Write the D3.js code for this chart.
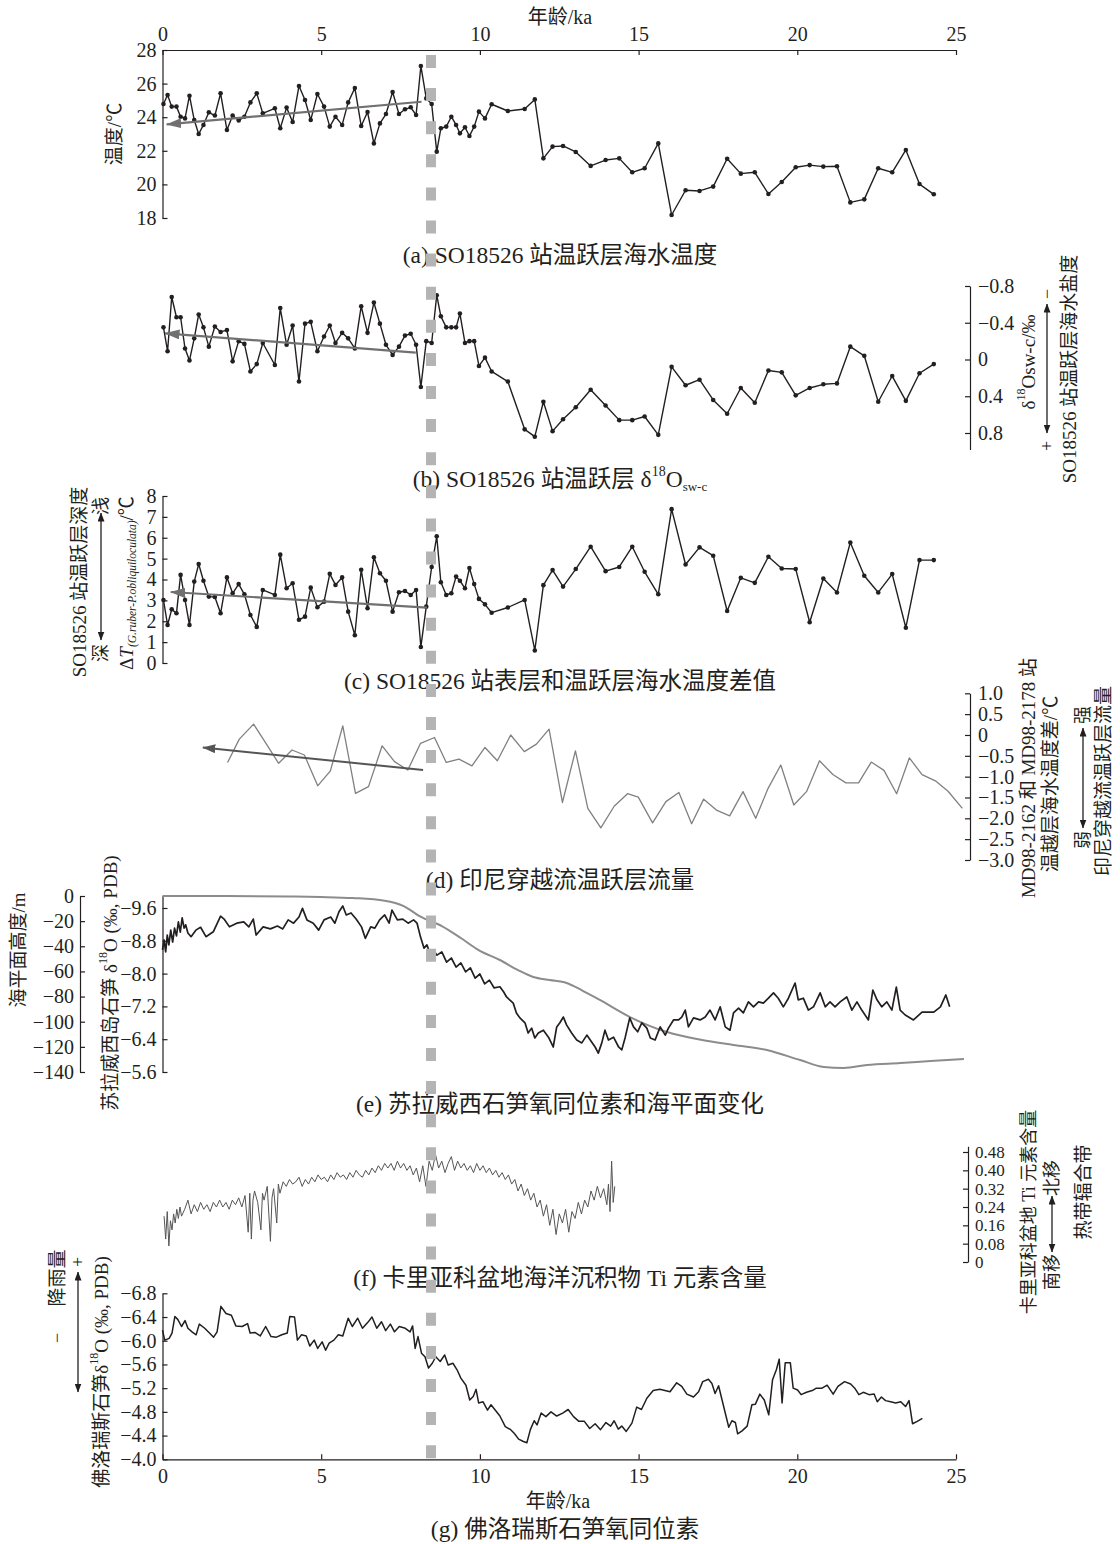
<!DOCTYPE html>
<html>
<head>
<meta charset="utf-8">
<script src="https://cdn.jsdelivr.net/npm/d3@7"></script>
<style>
  body { margin: 0; background: #fff; }
  svg text { fill: #231f20; }
</style>
</head>
<body>
<svg id="chart" width="1120" height="1544"></svg>
<script>
// ---------- data ----------
const ageTicks = [0, 5, 10, 15, 20, 25];
const tempTicks = [18, 20, 22, 24, 26, 28];
const d18OswTicks = [-0.8, -0.4, 0, 0.4, 0.8];
const deltaTTicks = [0, 1, 2, 3, 4, 5, 6, 7, 8];
const itfTicks = [1, 0.5, 0, -0.5, -1, -1.5, -2, -2.5, -3];
const sulawesiTicks = [-9.6, -8.8, -8.0, -7.2, -6.4, -5.6];
const seaLevelTicks = [0, -20, -40, -60, -80, -100, -120, -140];
const tiTicks = [0, 0.08, 0.16, 0.24, 0.32, 0.40, 0.48];
const floresTicks = [-6.8, -6.4, -6.0, -5.6, -5.2, -4.8, -4.4, -4.0];

// SO18526 sample ages (ka), shared by panels a-c
const coreAges = [0.03,0.16,0.29,0.44,0.57,0.71,0.85,1.0,1.14,1.29,1.46,1.65,1.83,2.03,2.21,2.40,2.58,2.77,2.97,3.16,
  3.54,3.71,3.91,4.10,4.30,4.49,4.67,4.88,5.09,5.27,5.45,5.66,5.85,6.06,6.26,6.46,6.66,6.85,7.04,7.25,
  7.45,7.64,7.82,7.99,8.14,8.31,8.48,8.64,8.77,8.94,9.10,9.25,9.37,9.53,9.67,9.82,9.97,10.16,10.37,10.88,
  11.41,11.73,12.0,12.29,12.62,13.02,13.49,13.96,14.39,14.80,15.19,15.62,16.04,16.48,16.92,17.35,17.79,18.22,18.66,19.09,
  19.51,19.95,20.39,20.82,21.25,21.67,22.11,22.55,22.99,23.42,23.85,24.30];
// thermocline temperature (°C)
const thermoTemp = [24.79,25.32,24.63,24.63,24.03,23.93,25.28,23.83,23.0,23.54,24.29,24.1,25.42,23.24,24.1,23.8,24.03,24.88,25.42,24.23,
  24.53,23.34,24.57,23.71,25.86,25.02,23.83,25.38,24.63,23.44,24.03,23.54,24.88,25.74,23.48,24.31,22.44,23.63,24.19,25.5,
  24.19,24.47,24.59,24.13,27.05,25.12,24.79,21.95,23.34,23.44,24.03,23.54,23.04,23.4,22.88,23.44,24.33,23.93,24.77,24.37,
  24.49,25.06,21.55,22.25,22.29,21.93,21.1,21.45,21.55,20.72,20.96,22.44,18.18,19.65,19.61,19.87,21.53,20.64,20.72,19.43,
  20.14,21.02,21.15,21.06,21.08,18.93,19.11,20.96,20.72,22.05,20.02,19.41];
// thermocline δ18O sw-c (‰)
const thermoD18Osw = [-0.35,-0.09,-0.68,-0.46,-0.46,-0.12,0.01,-0.23,-0.49,-0.35,-0.14,-0.36,-0.30,-0.32,0.02,-0.20,-0.17,0.13,0.05,-0.18,
  0.06,-0.56,-0.16,-0.37,0.24,-0.39,-0.41,-0.09,-0.25,-0.37,-0.18,-0.29,-0.23,-0.12,-0.58,-0.29,-0.62,-0.39,-0.16,-0.05,
  -0.14,-0.26,-0.28,-0.16,0.30,-0.20,-0.18,-0.70,-0.47,-0.35,-0.35,-0.35,-0.50,-0.18,-0.20,-0.20,0.07,-0.02,0.13,0.24,
  0.76,0.84,0.46,0.78,0.65,0.52,0.33,0.50,0.66,0.66,0.62,0.82,0.08,0.28,0.22,0.44,0.59,0.31,0.47,0.12,
  0.14,0.39,0.31,0.27,0.26,-0.14,-0.04,0.46,0.18,0.45,0.15,0.05];
// surface minus thermocline temperature (°C)
const surfThermoDT = [3.02,1.82,2.57,2.38,4.22,3.02,1.82,3.9,4.74,3.94,3.18,3.16,2.38,4.1,3.34,3.78,3.29,2.3,1.73,3.5,
  3.26,5.19,3.58,3.82,2.07,2.22,3.61,2.67,2.94,4.27,3.74,4.1,2.46,1.33,4.47,2.62,5.06,4.3,3.94,2.46,
  3.39,3.45,3.26,3.5,0.77,2.7,4.6,6.07,3.87,3.26,3.34,4.14,3.94,3.58,4.55,3.78,3.07,2.81,2.41,2.66,
  3.02,0.6,3.73,4.45,3.66,4.5,5.57,4.4,4.6,5.57,4.37,3.29,7.37,4.72,5.54,5.14,2.49,4.08,3.84,5.09,
  4.53,4.50,1.95,4.05,3.38,5.77,4.18,3.38,4.26,1.69,4.93,4.93];

// MD98-2162 minus MD98-2178 thermocline temperature difference (°C)
const itfAges = [2.05,2.42,2.87,3.26,3.66,4.08,4.47,4.89,5.29,5.68,6.08,6.49,6.92,7.31,7.73,8.13,8.57,8.94,9.34,9.75,
  10.16,10.55,10.97,11.40,11.78,12.18,12.60,13.01,13.40,13.81,14.23,14.65,14.99,15.44,15.86,16.27,16.67,17.05,17.47,17.87,
  18.29,18.69,19.08,19.48,19.89,20.29,20.70,21.12,21.53,21.93,22.33,22.73,23.13,23.53,23.93,24.35,24.75,25.2];
const itfDT = [-0.66,-0.10,0.26,-0.20,-0.68,-0.36,-0.48,-1.22,-0.86,0.22,-1.40,-1.24,-0.26,-0.64,-0.84,-0.20,-0.06,-0.66,-0.58,-0.74,
  -0.30,-0.62,0.0,-0.40,-0.22,0.14,-1.62,-0.38,-1.76,-2.23,-1.71,-1.41,-1.49,-2.11,-1.60,-1.38,-2.13,-1.54,-1.81,-1.94,
  -1.36,-2.0,-1.28,-0.72,-1.68,-1.36,-0.62,-0.95,-1.15,-1.15,-0.65,-0.85,-1.41,-0.55,-0.95,-1.1,-1.35,-1.76];

// Sulawesi speleothem δ18O (‰, PDB)
const sulawesiAges = [0.0,0.05,0.1,0.15,0.2,0.26,0.32,0.38,0.44,0.5,0.56,0.62,0.68,0.73,0.8,0.9,1.05,1.2,1.37,1.6,
  1.83,1.94,2.11,2.34,2.56,2.72,2.86,2.95,3.17,3.4,3.62,3.79,3.96,4.13,4.3,4.41,4.55,4.75,4.92,5.09,
  5.3,5.43,5.56,5.68,5.79,5.94,6.1,6.27,6.39,6.56,6.69,6.84,7.0,7.14,7.23,7.4,7.57,7.74,7.91,8.02,
  8.13,8.24,8.33,8.41,8.52,8.65,8.8,8.95,9.1,9.25,9.4,9.55,9.7,9.85,10.0,10.15,10.3,10.45,10.63,10.75,
  10.84,11.05,11.15,11.26,11.42,11.52,11.63,11.73,11.84,12.0,12.16,12.31,12.42,12.52,12.63,12.73,12.89,13.05,13.21,13.37,
  13.52,13.63,13.73,13.84,13.94,14.05,14.21,14.37,14.47,14.58,14.72,14.84,14.97,15.1,15.26,15.37,15.52,15.68,15.84,15.94,
  16.1,16.26,16.36,16.47,16.57,16.73,16.94,17.1,17.25,17.41,17.57,17.73,17.88,17.99,18.15,18.3,18.46,18.62,18.78,18.93,
  19.09,19.25,19.4,19.56,19.72,19.93,20.03,20.19,20.35,20.51,20.72,20.88,21.03,21.19,21.35,21.56,21.72,21.88,22.03,22.24,
  22.38,22.51,22.66,22.82,22.98,23.12,23.24,23.4,23.66,23.93,24.3,24.51,24.68,24.8];
const sulawesiD18O = [-8.58,-8.82,-8.53,-8.94,-8.70,-9.06,-8.77,-9.11,-8.92,-9.26,-9.01,-9.36,-9.11,-9.19,-8.99,-8.90,-9.06,-9.13,-8.90,-9.02,
  -9.40,-9.33,-9.14,-9.23,-9.26,-9.14,-9.33,-8.94,-9.14,-9.09,-9.16,-9.09,-9.31,-9.23,-9.38,-9.59,-9.31,-9.23,-9.06,-9.31,
  -9.38,-9.23,-9.51,-9.65,-9.43,-9.48,-9.33,-9.14,-8.86,-9.14,-9.11,-9.31,-9.43,-9.23,-9.55,-9.31,-9.33,-9.23,-9.31,-9.23,
  -8.89,-8.62,-8.70,-8.53,-8.58,-8.45,-8.53,-8.28,-8.38,-8.16,-8.26,-8.04,-8.14,-7.89,-7.99,-7.75,-7.84,-7.65,-7.68,-7.55,
  -7.43,-7.28,-7.04,-6.92,-6.80,-6.55,-6.67,-6.43,-6.55,-6.62,-6.45,-6.21,-6.70,-6.80,-6.94,-6.75,-6.55,-6.38,-6.31,-6.50,
  -6.33,-6.21,-6.06,-6.31,-6.62,-6.38,-6.45,-6.21,-6.14,-6.45,-6.92,-6.70,-6.58,-6.80,-6.67,-6.43,-6.38,-6.70,-6.50,-6.67,
  -6.87,-6.87,-6.94,-7.11,-6.70,-6.92,-6.87,-6.94,-7.11,-6.87,-7.19,-6.70,-6.62,-7.04,-7.16,-7.04,-7.31,-7.19,-7.31,-7.28,
  -7.40,-7.53,-7.40,-7.19,-7.40,-7.77,-7.36,-7.40,-7.11,-7.19,-7.53,-7.19,-7.31,-7.19,-7.31,-7.43,-7.11,-7.31,-7.11,-6.87,
  -7.60,-7.36,-7.19,-7.31,-7.11,-7.67,-7.11,-6.99,-6.87,-7.06,-7.06,-7.19,-7.48,-7.19];

// relative sea level (m)
const seaLevelAges = [0,2,4,5,6,7,7.6,8.13,8.8,9.4,9.96,10.63,11.2,11.68,12.2,12.73,13.2,13.78,14.73,15.89,
  17,17.99,19.04,20.09,20.83,21.46,22.2,23.25,24.2,25.25];
const seaLevel = [0,0,-0.4,-0.8,-1.6,-3.7,-8.0,-16.5,-23.9,-33.4,-43.0,-50.9,-58.9,-64.4,-66.8,-69.2,-74.8,-82.7,-96.3,-108.2,
  -114.6,-118.5,-122.5,-130.5,-136.0,-136.8,-134.4,-132.9,-131.3,-129.7];

// Cariaco Basin Ti content (%)
const cariacoAges = [0.05,0.1,0.15,0.2,0.25,0.3,0.35,0.4,0.45,0.5,0.55,0.6,0.7,0.8,0.9,1.0,1.1,1.2,1.3,1.4,
  1.5,1.6,1.7,1.8,1.9,2.0,2.1,2.2,2.3,2.4,2.5,2.6,2.7,2.75,2.8,2.85,2.9,3.0,3.1,3.15,
  3.2,3.3,3.4,3.45,3.5,3.6,3.65,3.7,3.8,3.9,4.0,4.1,4.2,4.3,4.4,4.5,4.6,4.7,4.8,4.9,
  5.0,5.1,5.2,5.3,5.4,5.5,5.6,5.7,5.8,5.9,6.0,6.1,6.2,6.3,6.4,6.5,6.6,6.7,6.8,6.9,
  7.0,7.1,7.2,7.3,7.4,7.5,7.6,7.7,7.8,7.9,8.0,8.1,8.2,8.3,8.4,8.5,8.6,8.7,8.8,8.9,
  9.0,9.1,9.2,9.3,9.4,9.5,9.6,9.7,9.8,9.9,10.0,10.1,10.2,10.3,10.4,10.5,10.6,10.7,10.8,10.9,
  11.0,11.1,11.2,11.3,11.4,11.5,11.6,11.7,11.8,11.9,12.0,12.1,12.2,12.3,12.4,12.5,12.6,12.7,12.8,12.9,
  13.0,13.1,13.2,13.3,13.4,13.5,13.6,13.7,13.8,13.9,14.0,14.05,14.1,14.15,14.2,14.25];
const cariacoTi = [0.20,0.10,0.22,0.07,0.18,0.14,0.21,0.17,0.23,0.19,0.24,0.20,0.23,0.27,0.21,0.25,0.22,0.26,0.23,0.25,
  0.22,0.26,0.24,0.27,0.24,0.26,0.23,0.27,0.25,0.28,0.24,0.29,0.13,0.30,0.10,0.27,0.31,0.26,0.14,0.30,
  0.27,0.33,0.09,0.28,0.32,0.17,0.34,0.30,0.35,0.33,0.36,0.34,0.35,0.37,0.33,0.36,0.34,0.37,0.35,0.38,
  0.36,0.37,0.35,0.38,0.36,0.39,0.37,0.38,0.36,0.39,0.37,0.40,0.38,0.37,0.40,0.38,0.41,0.39,0.42,0.40,
  0.43,0.41,0.43,0.40,0.44,0.41,0.43,0.40,0.42,0.38,0.41,0.35,0.42,0.33,0.44,0.40,0.47,0.41,0.44,0.39,
  0.43,0.46,0.40,0.44,0.41,0.43,0.40,0.42,0.39,0.43,0.40,0.42,0.39,0.41,0.38,0.40,0.37,0.39,0.36,0.38,
  0.34,0.36,0.31,0.34,0.29,0.32,0.27,0.30,0.24,0.27,0.20,0.25,0.16,0.23,0.12,0.21,0.17,0.23,0.13,0.22,
  0.19,0.26,0.21,0.27,0.24,0.31,0.27,0.33,0.28,0.32,0.25,0.34,0.22,0.44,0.26,0.33];

// Flores speleothem δ18O (‰, PDB)
const floresAges = [0.0,0.07,0.21,0.3,0.39,0.48,0.6,0.71,0.8,0.93,1.06,1.16,1.33,1.48,1.61,1.72,1.84,2.0,2.17,2.31,
  2.51,2.68,2.76,2.91,3.08,3.25,3.42,3.59,3.76,3.93,4.01,4.16,4.25,4.38,4.53,4.64,4.78,4.89,5.03,5.14,
  5.25,5.4,5.54,5.68,5.85,5.98,6.15,6.3,6.47,6.6,6.75,6.9,7.03,7.18,7.31,7.46,7.65,7.8,7.88,7.96,
  8.05,8.16,8.27,8.38,8.5,8.61,8.75,8.89,9.0,9.15,9.28,9.4,9.56,9.68,9.79,9.88,9.96,10.1,10.24,10.35,
  10.5,10.63,10.8,10.97,11.08,11.22,11.37,11.48,11.59,11.71,11.8,11.93,12.08,12.24,12.42,12.61,12.78,12.95,13.12,13.29,
  13.46,13.63,13.8,13.97,14.12,14.23,14.36,14.47,14.61,14.79,14.94,15.09,15.26,15.46,15.67,15.99,16.2,16.36,16.52,16.73,
  16.89,17.02,17.2,17.31,17.41,17.52,17.68,17.84,17.94,18.05,18.12,18.26,18.42,18.57,18.68,18.82,18.96,19.1,19.22,19.34,
  19.43,19.52,19.62,19.78,19.87,20.01,20.12,20.29,20.47,20.6,20.78,20.94,21.13,21.28,21.49,21.68,21.81,21.94,22.08,22.26,
  22.42,22.52,22.65,22.78,22.94,23.1,23.26,23.41,23.52,23.63,23.78,23.94];
const floresD18O = [-6.18,-6.01,-6.04,-6.13,-6.41,-6.36,-6.24,-6.34,-6.21,-6.15,-6.10,-6.28,-6.21,-6.13,-6.06,-6.15,-6.58,-6.46,-6.43,-6.25,
  -6.24,-6.29,-6.13,-6.14,-6.08,-6.24,-6.07,-6.06,-6.10,-6.13,-6.41,-6.40,-6.01,-6.10,-6.08,-5.91,-6.01,-5.87,-5.98,-5.84,
  -5.96,-6.01,-6.10,-6.08,-6.38,-6.24,-6.38,-6.21,-6.31,-6.40,-6.21,-6.32,-6.17,-6.28,-6.15,-6.24,-6.21,-6.15,-6.25,-5.87,
  -6.07,-5.79,-5.73,-5.54,-5.62,-5.73,-5.65,-5.76,-5.59,-5.62,-5.51,-5.37,-5.25,-5.00,-5.06,-5.18,-4.95,-4.97,-4.83,-4.92,
  -4.82,-4.73,-4.55,-4.50,-4.44,-4.34,-4.30,-4.28,-4.50,-4.65,-4.58,-4.78,-4.72,-4.80,-4.73,-4.78,-4.84,-4.72,-4.64,-4.64,
  -4.52,-4.60,-4.50,-4.62,-4.56,-4.65,-4.51,-4.56,-4.47,-4.61,-4.88,-4.84,-5.03,-5.16,-5.18,-5.14,-5.29,-5.23,-5.10,-5.05,
  -5.14,-5.31,-5.35,-5.28,-5.11,-5.24,-4.89,-4.54,-4.65,-4.62,-4.43,-4.48,-4.56,-4.92,-4.93,-5.10,-5.00,-4.75,-5.34,-5.51,
  -5.69,-4.95,-5.63,-5.63,-5.20,-5.17,-5.09,-5.13,-5.16,-5.20,-5.20,-5.25,-5.10,-5.23,-5.31,-5.27,-5.20,-5.09,-5.13,-5.09,
  -5.10,-4.97,-5.05,-4.99,-4.97,-4.95,-4.97,-4.89,-4.99,-4.60,-4.64,-4.69];

// linear trends over the Holocene [start, end] as [age, value]
const trendTemp = [[8.16, 24.92], [0.13, 23.57]];
const trendD18Osw = [[7.98, -0.075], [0.08, -0.285]];
const trendDT = [[8.33, 2.65], [0.26, 3.40]];
const trendITF = [[8.21, -0.84], [1.27, -0.30]];
const eventAge = 8.46;

// ---------- layout ----------
const FONT = '"Liberation Serif","Times New Roman","Noto Sans CJK SC",serif';
const INK = "#231f20";
const svg = d3.select("#chart").style("font-family", FONT);
const x = d3.scaleLinear([0, 25], [162.5, 956]);
const yA = d3.scaleLinear([18, 28], [218, 50]);
const yB = d3.scaleLinear([-0.8, 0.8], [286, 433]);
const yC = d3.scaleLinear([0, 8], [663, 496]);
const yD = d3.scaleLinear([-3, 1], [860, 693.3]);
const yE = d3.scaleLinear([-9.6, -5.6], [908, 1072]);
const yS = d3.scaleLinear([0, -140], [896, 1072]);
const yF = d3.scaleLinear([0, 0.48], [1262, 1152]);
const yG = d3.scaleLinear([-6.8, -4.0], [1293.3, 1459.3]);

const defs = svg.append("defs");
function headMarker(id, color, len, wid) {
  defs.append("marker").attr("id", id)
    .attr("viewBox", `0 0 ${len} ${wid}`).attr("refX", len - 0.5).attr("refY", wid / 2)
    .attr("markerWidth", len).attr("markerHeight", wid)
    .attr("markerUnits", "userSpaceOnUse").attr("orient", "auto-start-reverse")
    .append("path").attr("d", `M0,0L${len},${wid / 2}L0,${wid}Z`).attr("fill", color);
}
headMarker("trendHead", "#707070", 15, 10);
headMarker("trendHeadDark", "#555555", 13, 9);
headMarker("labHead", INK, 9, 7);

function styleAxis(g, size) {
  g.attr("font-family", FONT).attr("font-size", size || 20);
  g.selectAll("path.domain").attr("stroke", INK).attr("stroke-width", 1.2);
  g.selectAll(".tick line").attr("stroke", INK).attr("stroke-width", 1.2);
  g.selectAll(".tick text").attr("fill", INK);
}
const fmt1 = v => v === 0 ? "0" : d3.format(".1f")(v);
const fmt2 = v => v === 0 ? "0" : d3.format(".2f")(v);

function addParts(t, parts, size) {
  parts.forEach(p => {
    if (typeof p === "string") { t.append("tspan").text(p); return; }
    const s = t.append("tspan").text(p.t);
    if (p.sup) s.attr("baseline-shift", "super").style("font-size", (p.size || size * 0.62) + "px");
    if (p.sub) s.attr("baseline-shift", "sub").style("font-size", (p.size || size * 0.62) + "px");
    if (p.it) s.style("font-style", "italic");
  });
  return t;
}
function vText(cx, cy, parts, size) {
  const t = svg.append("text")
    .attr("transform", `translate(${cx},${cy}) rotate(-90)`)
    .attr("text-anchor", "middle").attr("dominant-baseline", "central")
    .style("font-size", size + "px");
  return addParts(t, parts, size);
}
function hText(cx, cy, parts, size) {
  const t = svg.append("text").attr("x", cx).attr("y", cy)
    .attr("text-anchor", "middle").attr("dominant-baseline", "central")
    .style("font-size", size + "px");
  return addParts(t, parts, size);
}
function dblArrow(xp, y1, y2) {
  svg.append("line").attr("x1", xp).attr("x2", xp).attr("y1", y1).attr("y2", y2)
    .attr("stroke", INK).attr("stroke-width", 1.3)
    .attr("marker-start", "url(#labHead)").attr("marker-end", "url(#labHead)");
}
function trace(ages, vals, y, color, width, curve) {
  const line = d3.line().x(d => x(d[0])).y(d => y(d[1])).curve(curve || d3.curveLinear);
  svg.append("path").datum(ages.map((a, i) => [a, vals[i]]))
    .attr("d", line).attr("fill", "none").attr("stroke", color)
    .attr("stroke-width", width).attr("stroke-linejoin", "round");
}
function dots(ages, vals, y) {
  svg.append("g").selectAll("circle").data(ages.map((a, i) => [a, vals[i]])).join("circle")
    .attr("cx", d => x(d[0])).attr("cy", d => y(d[1])).attr("r", 2.3).attr("fill", INK);
}
function trendArrow(seg, y, color, width, marker) {
  svg.append("line")
    .attr("x1", x(seg[0][0])).attr("y1", y(seg[0][1]))
    .attr("x2", x(seg[1][0])).attr("y2", y(seg[1][1]))
    .attr("stroke", color).attr("stroke-width", width)
    .attr("marker-end", `url(#${marker})`);
}

// ---------- (a) thermocline temperature ----------
svg.append("g").attr("transform", "translate(0,50)")
  .call(d3.axisTop(x).tickValues(ageTicks).tickSizeInner(-5).tickSizeOuter(0).tickPadding(9))
  .call(styleAxis);
hText(560, 17, ["年龄/ka"], 20);
svg.append("g").attr("transform", `translate(${x(0)},0)`)
  .call(d3.axisLeft(yA).tickValues(tempTicks).tickSizeInner(-5).tickSizeOuter(0).tickPadding(6))
  .call(styleAxis);
vText(114, 134, ["温度/℃"], 19);
trace(coreAges, thermoTemp, yA, INK, 1.4);
dots(coreAges, thermoTemp, yA);
trendArrow(trendTemp, yA, "#707070", 2.2, "trendHead");
hText(560, 255, ["(a) SO18526 站温跃层海水温度"], 23.5);

// ---------- (b) thermocline δ18O sw-c ----------
const yBaxis = yB.copy().domain([-0.8, 0.98]).range([yB(-0.8), yB(0.98)]);
svg.append("g").attr("transform", "translate(970,0)")
  .call(d3.axisRight(yBaxis).tickValues(d18OswTicks).tickFormat(fmt1).tickSizeInner(-5).tickSizeOuter(0).tickPadding(8))
  .call(styleAxis);
vText(1028, 362, ["δ", {t: "18", sup: true, size: 12}, "Osw-c/‰"], 19);
vText(1047, 294, ["−"], 18);
dblArrow(1047, 304, 433);
vText(1047, 446, ["+"], 18);
vText(1069, 369, ["SO18526 站温跃层海水盐度"], 19);
trace(coreAges, thermoD18Osw, yB, INK, 1.4);
dots(coreAges, thermoD18Osw, yB);
trendArrow(trendD18Osw, yB, "#707070", 2.2, "trendHead");
hText(560, 479, ["(b) SO18526 站温跃层 δ", {t: "18", sup: true, size: 14}, "O", {t: "sw-c", sub: true, size: 13}], 23.5);

// ---------- (c) surface - thermocline temperature difference ----------
svg.append("g").attr("transform", `translate(${x(0)},0)`)
  .call(d3.axisLeft(yC).tickValues(deltaTTicks).tickSizeInner(-5).tickSizeOuter(0).tickPadding(6))
  .call(styleAxis);
vText(126, 583, ["Δ", {t: "T", it: true}, {t: "(G.ruber-P.obliquiloculata)", sub: true, it: true, size: 11.5}, "/℃"], 19);
vText(79, 582, ["SO18526 站温跃层深度"], 19);
vText(101, 506, ["浅"], 18);
dblArrow(101, 513, 640);
vText(101, 653, ["深"], 18);
trace(coreAges, surfThermoDT, yC, INK, 1.4);
dots(coreAges, surfThermoDT, yC);
trendArrow(trendDT, yC, "#707070", 2.2, "trendHead");
hText(560, 681, ["(c) SO18526 站表层和温跃层海水温度差值"], 23.5);

// ---------- (d) ITF thermocline transport ----------
svg.append("g").attr("transform", "translate(970,0)")
  .call(d3.axisRight(yD).tickValues(itfTicks).tickFormat(fmt1).tickSizeInner(-5).tickSizeOuter(0).tickPadding(8))
  .call(styleAxis);
vText(1028, 778, ["MD98-2162 和 MD98-2178 站"], 19);
vText(1050, 784, ["温越层海水温度差/℃"], 19);
vText(1083, 715, ["强"], 18);
dblArrow(1083, 728, 828);
vText(1083, 840, ["弱"], 18);
vText(1103, 781, ["印尼穿越流温跃层流量"], 19);
trace(itfAges, itfDT, yD, "#808080", 1.3);
trendArrow(trendITF, yD, "#555555", 2, "trendHeadDark");
hText(560, 880, ["(d) 印尼穿越流温跃层流量"], 23.5);

// ---------- (e) Sulawesi speleothem δ18O and sea level ----------
const yEaxis = yE.copy().domain([-9.9, -5.6]).range([yE(-9.9), yE(-5.6)]);
svg.append("g").attr("transform", `translate(${x(0)},0)`)
  .call(d3.axisLeft(yEaxis).tickValues(sulawesiTicks).tickFormat(fmt1).tickSizeInner(-5).tickSizeOuter(0).tickPadding(6))
  .call(styleAxis);
svg.append("g").attr("transform", "translate(80,0)")
  .call(d3.axisLeft(yS).tickValues(seaLevelTicks).tickFormat(d3.format("d")).tickSizeInner(-5).tickSizeOuter(0).tickPadding(6))
  .call(styleAxis);
vText(18, 950, ["海平面高度/m"], 19);
vText(110, 983, ["苏拉威西岛石笋 δ", {t: "18", sup: true, size: 12}, "O (‰, PDB)"], 19);
trace(seaLevelAges, seaLevel, yS, "#8c8c8c", 2, d3.curveMonotoneX);
trace(sulawesiAges, sulawesiD18O, yE, INK, 1.7);
hText(560, 1104, ["(e) 苏拉威西石笋氧同位素和海平面变化"], 23.5);

// ---------- (f) Cariaco Basin Ti ----------
const yFaxis = yF.copy().domain([0, 0.505]).range([yF(0), yF(0.505)]);
svg.append("g").attr("transform", "translate(968,0)")
  .call(d3.axisRight(yFaxis).tickValues(tiTicks).tickFormat(fmt2).tickSizeInner(-5).tickSizeOuter(0).tickPadding(7))
  .call(g => styleAxis(g, 17));
vText(1029, 1212, ["卡里亚科盆地 Ti 元素含量"], 18);
vText(1052, 1178, ["北移"], 18);
dblArrow(1052, 1196, 1252);
vText(1052, 1272, ["南移"], 18);
vText(1083, 1192, ["热带辐合带"], 19);
trace(cariacoAges, cariacoTi, yF, "#555555", 1);
hText(560, 1278, ["(f) 卡里亚科盆地海洋沉积物 Ti 元素含量"], 23.5);

// ---------- (g) Flores speleothem δ18O ----------
svg.append("g").attr("transform", `translate(${x(0)},0)`)
  .call(d3.axisLeft(yG).tickValues(floresTicks).tickFormat(fmt1).tickSizeInner(-5).tickSizeOuter(0).tickPadding(6))
  .call(styleAxis);
svg.append("g").attr("transform", `translate(0,${yG(-4.0)})`)
  .call(d3.axisBottom(x).tickValues(ageTicks).tickSizeInner(-5).tickSizeOuter(0).tickPadding(10))
  .call(styleAxis);
vText(101, 1372, ["佛洛瑞斯石笋δ", {t: "18", sup: true, size: 12}, "O (‰, PDB)"], 19);
vText(57, 1278, ["降雨量"], 19);
vText(57, 1338, ["−"], 18);
vText(78, 1262, ["+"], 18);
dblArrow(78, 1272, 1392);
trace(floresAges, floresD18O, yG, INK, 1.5);
hText(558, 1501, ["年龄/ka"], 20);
hText(565, 1529, ["(g) 佛洛瑞斯石笋氧同位素"], 23.5);

// ---------- 8.2 ka event marker ----------
svg.append("line")
  .attr("x1", x(eventAge)).attr("x2", x(eventAge)).attr("y1", 55).attr("y2", 1460)
  .attr("stroke", "#b4b4b4").attr("stroke-width", 10).attr("stroke-dasharray", "13 20.1");
</script>
</body>
</html>
